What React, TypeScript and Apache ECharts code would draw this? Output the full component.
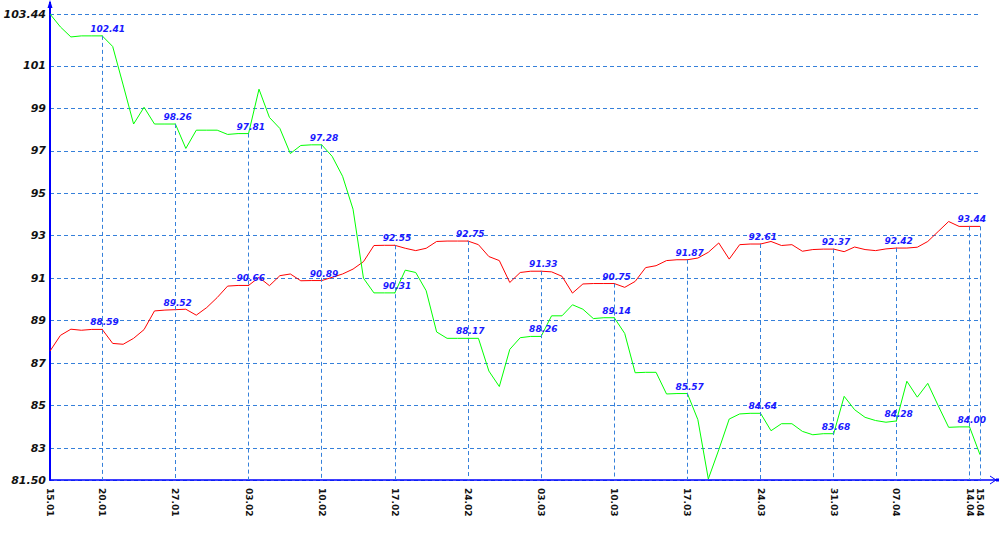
import React, { useEffect, useRef } from "react";
import * as echarts from "echarts";

const categories = [
  "15.01","16.01","17.01","18.01","19.01","20.01","21.01","22.01","23.01","24.01",
  "25.01","26.01","27.01","28.01","29.01","30.01","31.01","01.02","02.02","03.02",
  "04.02","05.02","06.02","07.02","08.02","09.02","10.02","11.02","12.02","13.02",
  "14.02","15.02","16.02","17.02","18.02","19.02","20.02","21.02","22.02","23.02",
  "24.02","25.02","26.02","27.02","28.02","01.03","02.03","03.03","04.03","05.03",
  "06.03","07.03","08.03","09.03","10.03","11.03","12.03","13.03","14.03","15.03",
  "16.03","17.03","18.03","19.03","20.03","21.03","22.03","23.03","24.03","25.03",
  "26.03","27.03","28.03","29.03","30.03","31.03","01.04","02.04","03.04","04.04",
  "05.04","07.04","08.04","09.04","10.04","11.04","12.04","13.04","14.04","15.04",
];

const greenValues = [
  103.44, 102.83, 102.36, 102.41, 102.41, 102.41, 101.91, 100.1, 98.26, 99.05,
  98.26, 98.26, 98.26, 97.11, 97.97, 97.97, 97.97, 97.77, 97.81, 97.81,
  99.9, 98.57, 98.05, 96.87, 97.25, 97.28, 97.28, 96.74, 95.8, 94.25,
  91.0, 90.31, 90.31, 90.31, 91.38, 91.27, 90.41, 88.47, 88.17, 88.17,
  88.17, 88.17, 86.63, 85.9, 87.65, 88.2, 88.26, 88.26, 89.23, 89.23,
  89.75, 89.54, 89.1, 89.14, 89.14, 88.4, 86.55, 86.57, 86.57, 85.55,
  85.57, 85.57, 84.34, 81.55, 82.92, 84.37, 84.61, 84.64, 84.64, 83.82,
  84.15, 84.15, 83.79, 83.63, 83.68, 83.68, 85.44, 84.81, 84.45, 84.3,
  84.22, 84.28, 86.15, 85.4, 86.05, 85.0, 83.98, 84.0, 84.0, 82.69,
];

const redValues = [
  87.57, 88.31, 88.6, 88.55, 88.59, 88.59, 87.93, 87.89, 88.17, 88.58,
  89.46, 89.5, 89.52, 89.54, 89.26, 89.62, 90.09, 90.63, 90.66, 90.66,
  91.04, 90.65, 91.12, 91.2, 90.88, 90.89, 90.89, 91.04, 91.2, 91.43,
  91.78, 92.54, 92.55, 92.55, 92.41, 92.3, 92.41, 92.73, 92.75, 92.75,
  92.75, 92.58, 92.02, 91.83, 90.8, 91.27, 91.33, 91.33, 91.3, 91.09,
  90.3, 90.73, 90.75, 90.75, 90.75, 90.57, 90.85, 91.5, 91.59, 91.83,
  91.87, 91.87, 91.95, 92.22, 92.66, 91.9, 92.58, 92.61, 92.61, 92.73,
  92.54, 92.58, 92.27, 92.35, 92.37, 92.37, 92.25, 92.47, 92.35, 92.3,
  92.38, 92.42, 92.42, 92.46, 92.73, 93.2, 93.67, 93.44, 93.44, 93.44,
];

const yTickValues = [81.5, 83, 85, 87, 89, 91, 93, 95, 97, 99, 101, 103.44];
const labeledDates = ["20.01","27.01","03.02","10.02","17.02","24.02","03.03","10.03","17.03","24.03","31.03","07.04","14.04"];
const axisLabelDates = ["15.01", ...labeledDates, "15.04"];
const guideDates = [...labeledDates, "15.04"];

const Y_MIN = 81.5;
const Y_MAX = 103.44;
const GRID_COLOR = "#3580da";
const AXIS_COLOR = "#0000ff";
const GREEN = "#00ff00";
const RED = "#ff0000";

const valueLabel = {
  show: false,
  position: "top" as const,
  distance: 2,
  align: "left" as const,
  offset: [-12, 0],
  color: "#1a1aff",
  fontFamily: "DejaVu Sans",
  fontStyle: "italic" as const,
  fontWeight: "bold" as const,
  fontSize: 9,
  formatter: (p: any) => Number(p.value).toFixed(2),
};

function buildData(values: number[]) {
  return values.map((v, i) =>
    labeledDates.includes(categories[i])
      ? { value: v, symbol: "circle", symbolSize: 1, label: { show: true } }
      : v
  );
}

export default function App() {
  const ref = useRef<HTMLDivElement>(null);

  useEffect(() => {
    if (!ref.current) return;
    const chart = echarts.init(ref.current, undefined, { renderer: "svg" });

    const guideData = guideDates.map((d) => {
      const i = categories.indexOf(d);
      const top = Math.max(greenValues[i], redValues[i]);
      return [{ coord: [d, top] }, { coord: [d, Y_MIN] }];
    });

    chart.setOption({
      animation: false,
      backgroundColor: "#ffffff",
      grid: { left: 50, right: 20, top: 14, bottom: 70, containLabel: false, outerBoundsMode: "none" },
      xAxis: {
        type: "category",
        data: categories,
        boundaryGap: false,
        axisLine: { show: true, lineStyle: { color: AXIS_COLOR, width: 1.5 } },
        axisTick: { show: false },
        splitLine: { show: false },
        axisLabel: {
          interval: (_idx: number, val: string) => axisLabelDates.includes(val),
          rotate: -90,
          margin: 8,
          color: "#111111",
          fontFamily: "DejaVu Sans",
          fontWeight: "bold",
          fontSize: 9,
        },
      },
      yAxis: {
        type: "value",
        min: Y_MIN,
        max: Y_MAX,
        axisLine: { show: true, lineStyle: { color: AXIS_COLOR, width: 2 } },
        axisTick: { show: false, customValues: yTickValues },
        splitLine: { show: true, lineStyle: { color: GRID_COLOR, type: [4, 3], width: 1 } },
        axisLabel: {
          customValues: yTickValues,
          showMinLabel: true,
          showMaxLabel: true,
          margin: 4,
          color: "#111111",
          fontFamily: "DejaVu Sans",
          fontStyle: "italic",
          fontWeight: "bold",
          fontSize: 11,
          formatter: (v: number) => (Number.isInteger(v) ? String(v) : v.toFixed(2)),
        },
      },
      series: [
        {
          type: "line",
          name: "red",
          data: buildData(redValues),
          symbol: "none",
          showSymbol: true,
          itemStyle: { color: RED },
          lineStyle: { color: RED, width: 1 },
          label: valueLabel,
          emphasis: { disabled: true },
          z: 3,
        },
        {
          type: "line",
          name: "green",
          data: buildData(greenValues),
          symbol: "none",
          showSymbol: true,
          itemStyle: { color: GREEN },
          lineStyle: { color: GREEN, width: 1 },
          label: valueLabel,
          emphasis: { disabled: true },
          z: 3,
          markLine: {
            silent: true,
            symbol: ["none", "none"],
            label: { show: false },
            emphasis: { disabled: true },
            lineStyle: { color: GRID_COLOR, type: [4, 3], width: 1 },
            data: guideData,
          },
        },
      ],
      graphic: [
        { type: "line", shape: { x1: 50, y1: 14, x2: 50, y2: 2 }, style: { stroke: AXIS_COLOR, lineWidth: 2 } },
        { type: "polygon", shape: { points: [[50, 0], [47.5, 8], [52.5, 8]] }, style: { fill: AXIS_COLOR } },
        { type: "line", shape: { x1: 980, y1: 480, x2: 998, y2: 480 }, style: { stroke: AXIS_COLOR, lineWidth: 1.5 } },
        { type: "polyline", shape: { points: [[990, 476], [996, 480], [990, 484]] }, style: { stroke: AXIS_COLOR, lineWidth: 1, fill: null } },
        { type: "rect", shape: { x: 996, y: 478.5, width: 3, height: 3 }, style: { fill: AXIS_COLOR } },
      ],
    });

    return () => chart.dispose();
  }, []);

  return (
    <div
      ref={ref}
      style={{ position: "absolute", left: 0, top: 0, width: 1000, height: 550, background: "#fff" }}
    />
  );
}
